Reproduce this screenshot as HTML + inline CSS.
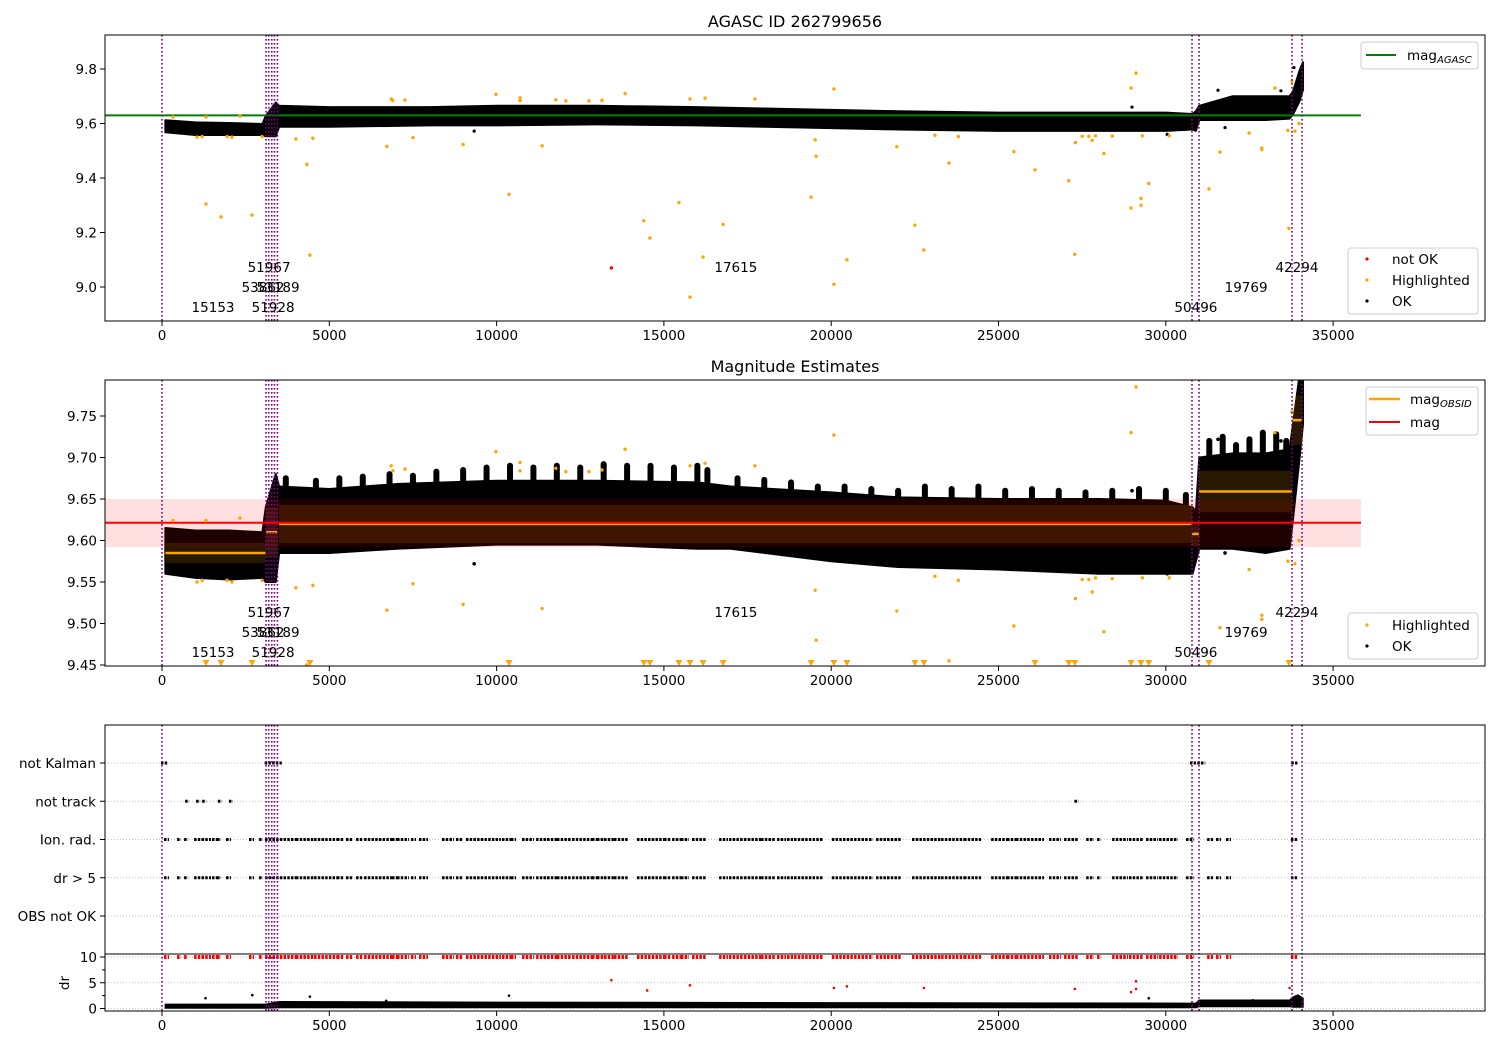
<!DOCTYPE html>
<html><head><meta charset="utf-8"><style>
html,body{margin:0;padding:0;background:#fff}
svg{display:block;font-family:"DejaVu Sans","Liberation Sans",sans-serif}
</style></head><body>
<svg id="fig" width="1500" height="1050" viewBox="0 0 1500 1050" xmlns="http://www.w3.org/2000/svg">
<defs>
<clipPath id="c1"><rect x="105" y="35" width="1380" height="286"/></clipPath>
<clipPath id="c2"><rect x="105" y="380" width="1380" height="286"/></clipPath>
<clipPath id="c3"><rect x="105" y="725" width="1380" height="286"/></clipPath>
</defs>
<rect width="1500" height="1050" fill="#fff"/>
<text x="795" y="27" font-size="16" text-anchor="middle">AGASC ID 262799656</text>
<text x="795" y="372" font-size="16" text-anchor="middle">Magnitude Estimates</text>
<g id="p1" clip-path="url(#c1)"></g>
<g id="p2" clip-path="url(#c2)"></g>
<g id="p3" clip-path="url(#c3)"></g>
<g id="axes"></g>
<g>
<rect x="1361" y="42" width="117" height="27" rx="3" fill="#fff" fill-opacity="0.8" stroke="#ccc"/>
<line x1="1366" y1="55" x2="1396" y2="55" stroke="green" stroke-width="2"/>
<text x="1407" y="60" font-size="13.5">mag<tspan font-size="10" font-style="italic" dy="3">AGASC</tspan></text>
</g>
<g>
<rect x="1348" y="248" width="130" height="66" rx="3" fill="#fff" fill-opacity="0.8" stroke="#ccc"/>
<circle cx="1367" cy="259" r="1.6" fill="red"/><text x="1392" y="264" font-size="13.5">not OK</text>
<circle cx="1367" cy="280" r="1.6" fill="orange"/><text x="1392" y="285" font-size="13.5">Highlighted</text>
<circle cx="1367" cy="301" r="1.6" fill="#000"/><text x="1392" y="306" font-size="13.5">OK</text>
</g>
<g>
<rect x="1366" y="387" width="112" height="48" rx="3" fill="#fff" fill-opacity="0.8" stroke="#ccc"/>
<line x1="1369" y1="399" x2="1400" y2="399" stroke="orange" stroke-width="2.5"/>
<text x="1410" y="404" font-size="13.5">mag<tspan font-size="10" font-style="italic" dy="3">OBSID</tspan></text>
<line x1="1369" y1="422" x2="1400" y2="422" stroke="red" stroke-width="2"/>
<text x="1410" y="427" font-size="13.5">mag</text>
</g>
<g>
<rect x="1348" y="613" width="130" height="46" rx="3" fill="#fff" fill-opacity="0.8" stroke="#ccc"/>
<circle cx="1367" cy="625" r="1.6" fill="orange"/><text x="1392" y="630" font-size="13.5">Highlighted</text>
<circle cx="1367" cy="646" r="1.6" fill="#000"/><text x="1392" y="651" font-size="13.5">OK</text>
</g>
</svg>
<script>
// ---------- data ----------
const xTicks = [0,5000,10000,15000,20000,25000,30000,35000];
const y1Ticks = [9.0,9.2,9.4,9.6,9.8];
const y2Ticks = [9.45,9.50,9.55,9.60,9.65,9.70,9.75];
const categories = ['OBS not OK','dr > 5','Ion. rad.','not track','not Kalman'];
const drTicks = [0,5,10];
const magAgasc = 9.63;
const magMean = 9.6214;
const magStdLo = 9.592;
const magStdHi = 9.65;
const lineEnd = 35833;
const obsBounds = [0,3110,3190,3280,3360,3450,30783,30992,33772,34071];
const obsSegStart = [100,3110,3500,30783,30992,33772];
const obsSegEnd = [3100,3450,30783,30992,33772,34071];
const obsSegMag = [9.585,9.61,9.62,9.608,9.659,9.745];
const obsSegStd = [0.012,0.03,0.023,0.015,0.025,0.03];
const obsLabels = ['15153','51928','53862','53189','51967','17615','50496','19769','42294'];
const obsLabelX = [1525,3320,3020,3470,3200,17150,30900,32400,33920];
const obsLabelRow = [0,0,1,1,2,2,0,1,2];
// OK cloud envelope, AGASC panel
const band1X  = [100,1000,2000,3000,3100,3400,3500,5000,8000,10000,13000,16000,18000,20000,22000,25000,28000,30000,30800,30900,31000,32000,33000,33700,33800,34000,34100];
const band1Lo = [9.568,9.558,9.558,9.558,9.553,9.553,9.588,9.588,9.593,9.593,9.597,9.593,9.588,9.583,9.578,9.573,9.573,9.573,9.578,9.573,9.613,9.613,9.613,9.618,9.633,9.683,9.723];
const band1Hi = [9.612,9.604,9.602,9.598,9.627,9.677,9.665,9.66,9.66,9.665,9.665,9.66,9.655,9.65,9.645,9.64,9.64,9.64,9.635,9.645,9.665,9.70,9.70,9.70,9.717,9.795,9.825];
// OK cloud envelope, estimates panel
const band2X  = [100,1000,2000,3000,3100,3400,3500,5000,7000,10000,13000,16000,17000,20000,22000,25000,28000,30000,30800,30900,31000,32000,33000,33700,33800,34000,34100];
const band2Lo = [9.56,9.555,9.553,9.555,9.55,9.55,9.585,9.585,9.59,9.595,9.595,9.59,9.59,9.575,9.568,9.565,9.56,9.56,9.56,9.575,9.59,9.59,9.585,9.59,9.625,9.70,9.74];
const band2Hi = [9.615,9.612,9.612,9.61,9.64,9.68,9.665,9.662,9.668,9.672,9.672,9.67,9.665,9.658,9.652,9.65,9.65,9.648,9.64,9.635,9.70,9.705,9.705,9.71,9.74,9.80,9.80];
// spikes in estimates panel (x, top)
const spikeX = [3700,4600,5300,6000,6800,7500,8200,9000,9700,10400,11100,11800,12500,13200,13900,14600,15300,16000,16300,17200,18000,18800,19600,20400,21200,22000,22800,23600,24400,25200,26000,26800,27600,28400,29200,30000,30600,31300,31700,32100,32500,32900,33300,33600];
const spikeTop = [9.675,9.672,9.675,9.677,9.68,9.678,9.683,9.685,9.688,9.69,9.688,9.69,9.688,9.692,9.69,9.69,9.688,9.69,9.685,9.675,9.673,9.67,9.665,9.665,9.662,9.66,9.665,9.662,9.665,9.66,9.662,9.66,9.658,9.66,9.662,9.66,9.655,9.72,9.725,9.715,9.722,9.73,9.728,9.72];
const okOutX = [9330,28990,31770,30040,31560,33440,33830];
const okOutY = [9.572,9.66,9.585,9.56,9.722,9.72,9.805];
const hiX = [1315,1763,2690,4000,4510,4330,4420,6720,7500,9000,10370,11360,14400,14580,15450,15780,16170,16770,19400,19520,19550,20080,20080,20470,21960,22500,22770,23520,25460,26090,27100,27280,28150,28960,29110,28960,29260,29260,29490,31290,31620,32490,32870,32870,33680,33650,33860,33980,33770,33260,330,1315,2330,1045,1200,1945,2090,2990,6850,6900,7260,9980,10700,10700,11770,12070,12760,13150,13840,15780,16230,17720,23100,23800,27300,27500,27700,27900,28400,29300,30100,27800];
const hiY = [9.305,9.257,9.264,9.543,9.546,9.45,9.117,9.516,9.548,9.523,9.34,9.518,9.243,9.18,9.31,8.963,9.11,9.23,9.33,9.54,9.48,9.727,9.01,9.1,9.515,9.227,9.136,9.455,9.497,9.43,9.39,9.12,9.49,9.73,9.785,9.29,9.325,9.30,9.38,9.36,9.495,9.565,9.51,9.505,9.215,9.575,9.572,9.60,9.755,9.73,9.624,9.624,9.627,9.55,9.552,9.552,9.55,9.552,9.69,9.684,9.686,9.707,9.694,9.684,9.687,9.683,9.683,9.685,9.71,9.69,9.693,9.69,9.557,9.552,9.53,9.553,9.553,9.555,9.554,9.555,9.555,9.538];
const notOkX = [13430];
const notOkY = [9.07];
// flag ranges (start, end)
const kalStart = [0,3100,30750,33780];
const kalEnd   = [130,3550,31150,33920];
const trackX = [720,1050,1230,1700,2030,27300];
const ionStart = [90,480,690,990,1525,1675,1945,2630,2930,3110,4035,4575,5260,5530,5830,6070,6905,7055,7470,7710,8400,8815,9115,10190,10460,10790,11210,11540,11835,12285,12880,13030,13240,13540,14225,15035,15275,15540,15870,16680,16975,17425,17935,18410,18710,18920,20050,21160,21370,21700,22445,23315,24000,24810,25285,25555,26005,26540,26990,27650,27975,28425,28930,29440,29830,30635,31265,31530,31830,33770];
const ionEnd   = [180,540,750,1435,1615,1735,2030,2720,2990,3975,4515,5230,5410,5680,5980,6875,7025,7355,7560,7920,8700,8965,10100,10400,10550,11090,11510,11805,12195,12850,13000,13180,13480,13900,14975,15185,15480,15720,16230,16885,17365,17875,18320,18620,18830,19725,21070,21220,21670,22060,23255,23940,24450,25255,25495,25945,26330,26840,27350,27825,28035,28840,29290,29740,30335,30815,31385,31620,31920,33920];
// dr values
const drBandX  = [100,3100,3500,10000,20000,30800,30900,31000,33700,33800,33950,34100];
const drBandLo = [0.1,0.1,0.2,0.2,0.2,0.2,0.2,0.4,0.4,0.3,0.3,0.3];
const drBandHi = [0.8,0.8,1.3,1.2,1.1,1.0,1.0,1.6,1.6,2.2,2.6,2.0];
const drOkX = [1300,2700,4420,10370,29490,6700,31900,32600];
const drOkY = [2.0,2.6,2.3,2.5,2.0,1.5,1.4,1.6];
const drBadX = [13430,14500,15780,20080,20470,22770,27280,28960,29110,29110,33700];
const drBadY = [5.5,3.5,4.5,4.0,4.3,4.0,3.8,3.2,5.3,3.8,4.0];

// ---------- scales ----------
const X = v => 162 + v*0.03346;
const Y1 = v => 287 - (v-9.0)*272.5;
const Y2 = v => 665 - (v-9.45)*830;
const Yc = i => 916 - i*38.25;
const Yd = v => 1008.5 - v*5.15;
const NS = 'http://www.w3.org/2000/svg';
function mk(tag, attrs, parent){const e=document.createElementNS(NS,tag);for(const k in attrs)e.setAttribute(k,attrs[k]);parent.appendChild(e);return e;}
const p1=document.getElementById('p1'), p2=document.getElementById('p2'), p3=document.getElementById('p3'), ax=document.getElementById('axes');

function bandPath(xs,lo,hi,Y){let d='M'+X(xs[0])+','+Y(hi[0]);for(let i=1;i<xs.length;i++)d+='L'+X(xs[i])+','+Y(hi[i]);for(let i=xs.length-1;i>=0;i--)d+='L'+X(xs[i])+','+Y(lo[i]);return d+'Z';}

// ----- panel 1 -----
{
 const e=mk('path',{d:bandPath(band1X,band1Lo,band1Hi,Y1),fill:'#000',stroke:'#000','stroke-width':2,'stroke-linejoin':'round'},p1);
 
 
 for(let i=0;i<okOutX.length;i++){const c=mk('circle',{cx:X(okOutX[i]),cy:Y1(okOutY[i]),r:1.6,fill:'#000'},p1);
  
  }
 const g=mk('line',{x1:105,x2:X(lineEnd),y1:Y1(magAgasc),y2:Y1(magAgasc),stroke:'green','stroke-width':2},p1);
 
 
 for(let i=0;i<hiX.length;i++){const c=mk('circle',{cx:X(hiX[i]),cy:Y1(hiY[i]),r:1.7,fill:'orange'},p1);
  
  }
 for(let i=0;i<notOkX.length;i++){const c=mk('circle',{cx:X(notOkX[i]),cy:Y1(notOkY[i]),r:1.7,fill:'red'},p1);
  
  }
}
// ----- panel 2 -----
{
 const e=mk('path',{d:bandPath(band2X,band2Lo,band2Hi,Y2),fill:'#000',stroke:'#000','stroke-width':2,'stroke-linejoin':'round'},p2);
 
 
 for(let i=0;i<spikeX.length;i++){
  const s=mk('line',{x1:X(spikeX[i]),x2:X(spikeX[i]),y1:Y2(spikeTop[i]-0.035),y2:Y2(spikeTop[i]),stroke:'#000','stroke-width':6,'stroke-linecap':'round'},p2);
  
  }
 for(let i=0;i<okOutX.length;i++){const c=mk('circle',{cx:X(okOutX[i]),cy:Y2(okOutY[i]),r:1.8,fill:'#000'},p2);
  
  }
 for(let i=0;i<obsSegStart.length;i++){
  const r=mk('rect',{x:X(obsSegStart[i]),width:X(obsSegEnd[i])-X(obsSegStart[i]),y:Y2(obsSegMag[i]+obsSegStd[i]),height:Y2(obsSegMag[i]-obsSegStd[i])-Y2(obsSegMag[i]+obsSegStd[i]),fill:'orange','fill-opacity':0.15},p2);
  
  }
 const b=mk('rect',{x:105,width:X(lineEnd)-105,y:Y2(magStdHi),height:Y2(magStdLo)-Y2(magStdHi),fill:'red','fill-opacity':0.12},p2);
 
 
 for(let i=0;i<obsSegStart.length;i++){
  const l=mk('line',{x1:X(obsSegStart[i]),x2:X(obsSegEnd[i]),y1:Y2(obsSegMag[i]),y2:Y2(obsSegMag[i]),stroke:'orange','stroke-width':2.5},p2);
  
  }
 const m=mk('line',{x1:105,x2:X(lineEnd),y1:Y2(magMean),y2:Y2(magMean),stroke:'red','stroke-width':2},p2);
 
 
 for(let i=0;i<hiX.length;i++){
  if(hiY[i]<9.45){const t=X(hiX[i]);const p=mk('path',{d:`M${t-3.5},660 L${t+3.5},660 L${t},666 Z`,fill:'orange'},p2);
   
   }
  else{const c=mk('circle',{cx:X(hiX[i]),cy:Y2(hiY[i]),r:1.7,fill:'orange'},p2);
   
   }
 }
}
// ----- panel 3 -----
{
 for(let i=0;i<categories.length;i++){const l=mk('line',{x1:105,x2:1485,y1:Yc(i),y2:Yc(i),stroke:'#b0b0b0','stroke-width':0.8,'stroke-dasharray':'1,2'},p3);
  
  }
 for(const v of drTicks){const l=mk('line',{x1:105,x2:1485,y1:Yd(v),y2:Yd(v),stroke:'#b0b0b0','stroke-width':0.8,'stroke-dasharray':'1,2'},p3);
  
  }
 const seg=(s,e,y,col,w,name)=>{const l=mk('line',{x1:X(s)-1,x2:X(e)+1,y1:y,y2:y,stroke:col,'stroke-width':w,'stroke-dasharray':'2.5,1.2'},p3);
  
  };
 for(let i=0;i<kalStart.length;i++)seg(kalStart[i],kalEnd[i],Yc(4),'#000',3,'not-kalman-marks');
 for(let i=0;i<trackX.length;i++)seg(trackX[i],trackX[i]+60,Yc(3),'#000',3,'not-track-marks');
 for(let i=0;i<ionStart.length;i++){seg(ionStart[i],ionEnd[i],Yc(2),'#000',3,'ion-rad-marks');seg(ionStart[i],ionEnd[i],Yc(1),'#000',3,'dr-gt-5-marks');seg(ionStart[i],ionEnd[i],Yd(10),'red',4,'dr-clipped-marks');}
 const e=mk('path',{d:bandPath(drBandX,drBandLo,drBandHi,Yd),fill:'#000',stroke:'#000','stroke-width':1.5},p3);
 
 
 for(let i=0;i<drOkX.length;i++){const c=mk('circle',{cx:X(drOkX[i]),cy:Yd(drOkY[i]),r:1.3,fill:'#000'},p3);
  
  }
 for(let i=0;i<drBadX.length;i++){const c=mk('circle',{cx:X(drBadX[i]),cy:Yd(drBadY[i]),r:1.3,fill:'red'},p3);
  
  }
}
// ----- vertical obsid boundaries & labels -----
const panels=[[35,321,p1],[380,666,p2],[725,1011,p3]];
for(const [t,b,g] of panels){
 for(const v of obsBounds){const l=mk('line',{x1:X(v),x2:X(v),y1:t,y2:b,stroke:'purple','stroke-width':1.6,'stroke-dasharray':'1.6,2.4'},g);
  
  }
}
for(const [t,b,g] of panels.slice(0,2)){
 for(let i=0;i<obsLabels.length;i++){const tx=mk('text',{x:X(obsLabelX[i]),y:b-9-obsLabelRow[i]*20,'font-size':13.5,'text-anchor':'middle'},g);
  tx.textContent=obsLabels[i];
  
  }
}
// ----- axes -----
function frame(t,b,name){const r=mk('rect',{x:105,y:t,width:1380,height:b-t,fill:'none',stroke:'#000','stroke-width':1},ax);
 
 }
frame(35,321,'axes-frame-agasc');frame(380,666,'axes-frame-estimates');frame(725,1011,'axes-frame-flags');
{const l=mk('line',{x1:105,x2:1485,y1:954,y2:954,stroke:'#000','stroke-width':1},ax);
 
 }
for(const [t,b] of panels){
 for(const v of xTicks){mk('line',{x1:X(v),x2:X(v),y1:b,y2:b+5,stroke:'#000'},ax);
  const tx=mk('text',{x:X(v),y:b+19,'font-size':13.5,'text-anchor':'middle'},ax);
  tx.textContent=v;
  
  }
}
for(const v of y1Ticks){mk('line',{x1:100,x2:105,y1:Y1(v),y2:Y1(v),stroke:'#000'},ax);
 const tx=mk('text',{x:97,y:Y1(v)+5,'font-size':13.5,'text-anchor':'end'},ax);
 tx.textContent=v.toFixed(1);
 
 }
for(const v of y2Ticks){mk('line',{x1:100,x2:105,y1:Y2(v),y2:Y2(v),stroke:'#000'},ax);
 const tx=mk('text',{x:97,y:Y2(v)+5,'font-size':13.5,'text-anchor':'end'},ax);
 tx.textContent=v.toFixed(2);
 
 }
for(let i=0;i<categories.length;i++){mk('line',{x1:100,x2:105,y1:Yc(i),y2:Yc(i),stroke:'#000'},ax);
 const tx=mk('text',{x:96,y:Yc(i)+5,'font-size':13.5,'text-anchor':'end'},ax);
 tx.textContent=categories[i];
 
 }
for(const v of drTicks){mk('line',{x1:100,x2:105,y1:Yd(v),y2:Yd(v),stroke:'#000'},ax);
 const tx=mk('text',{x:97,y:Yd(v)+5,'font-size':13.5,'text-anchor':'end'},ax);
 tx.textContent=v;
 
 }
for(const v of [2.5,7.5])mk('line',{x1:102,x2:105,y1:Yd(v),y2:Yd(v),stroke:'#000'},ax);
{const tx=mk('text',{x:0,y:0,'font-size':13.5,'text-anchor':'middle',transform:'translate(69,983) rotate(-90)'},ax);
 tx.textContent='dr';
 
 }
</script>
</body></html>
